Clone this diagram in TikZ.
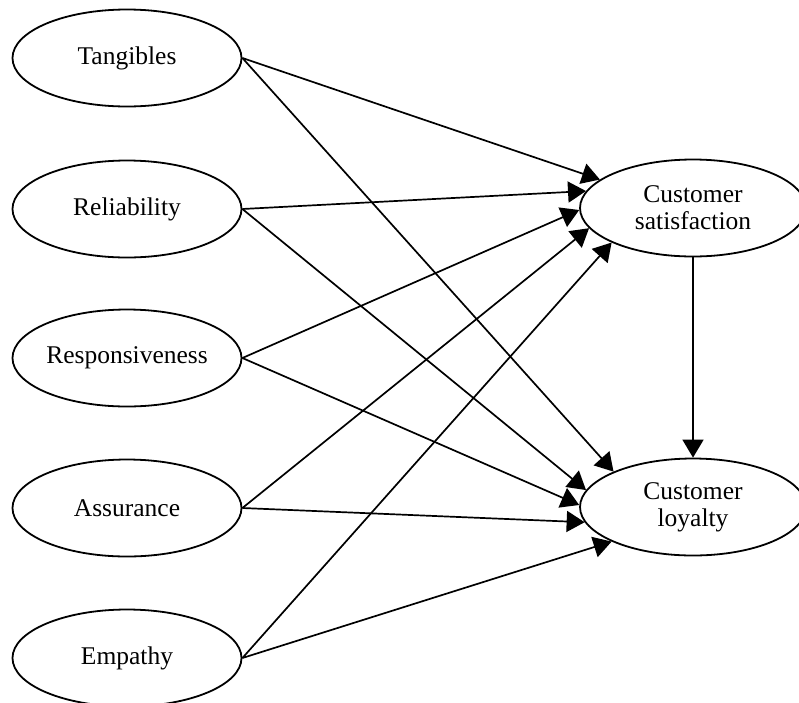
\documentclass[tikz,border=0pt]{standalone}
\usepackage{fontspec}
\setmainfont{Liberation Serif}
\usetikzlibrary{shapes.geometric,arrows.meta}
\tikzset{
  construct/.style={draw, ellipse, line width=1.8pt, inner sep=0pt,
    minimum width=229pt, minimum height=97pt, align=center,
    font=\fontsize{25.5}{27}\selectfont},
  outcome/.style={construct, minimum width=226pt},
  path/.style={->, line width=1.7pt},
}
\begin{document}
\begin{tikzpicture}[x=1pt,y=-1pt,>={Triangle[length=18pt,width=21pt]}, line join=round]
            \useasboundingbox (0,0) rectangle (799,702);
            % dimensions (left)
            \node[construct] (tang) at (127,58) {Tangibles};
            \node[construct] (reli) at (127,209) {Reliability};
            \node[construct] (resp) at (127,358) {Responsiveness};
            \node[construct] (assu) at (127,508) {Assurance};
            \node[construct] (empa) at (127,658) {Empathy};
            % outcomes (right)
            \node[outcome] (sat) at (693,208) {Customer\\satisfaction};
            \node[outcome] (loy) at (693,507) {Customer\\loyalty};
            \foreach \s/\a/\b in {tang/163.8/156.6, reli/171/171.6, resp/181/179, assu/191/188, empa/203.6/203}{
              \draw[path] (\s.east) -- (sat.\a);
              \draw[path] (\s.east) -- (loy.\b);
            }
            \draw[path] (sat.south) -- (loy.north);
\end{tikzpicture}
\end{document}
